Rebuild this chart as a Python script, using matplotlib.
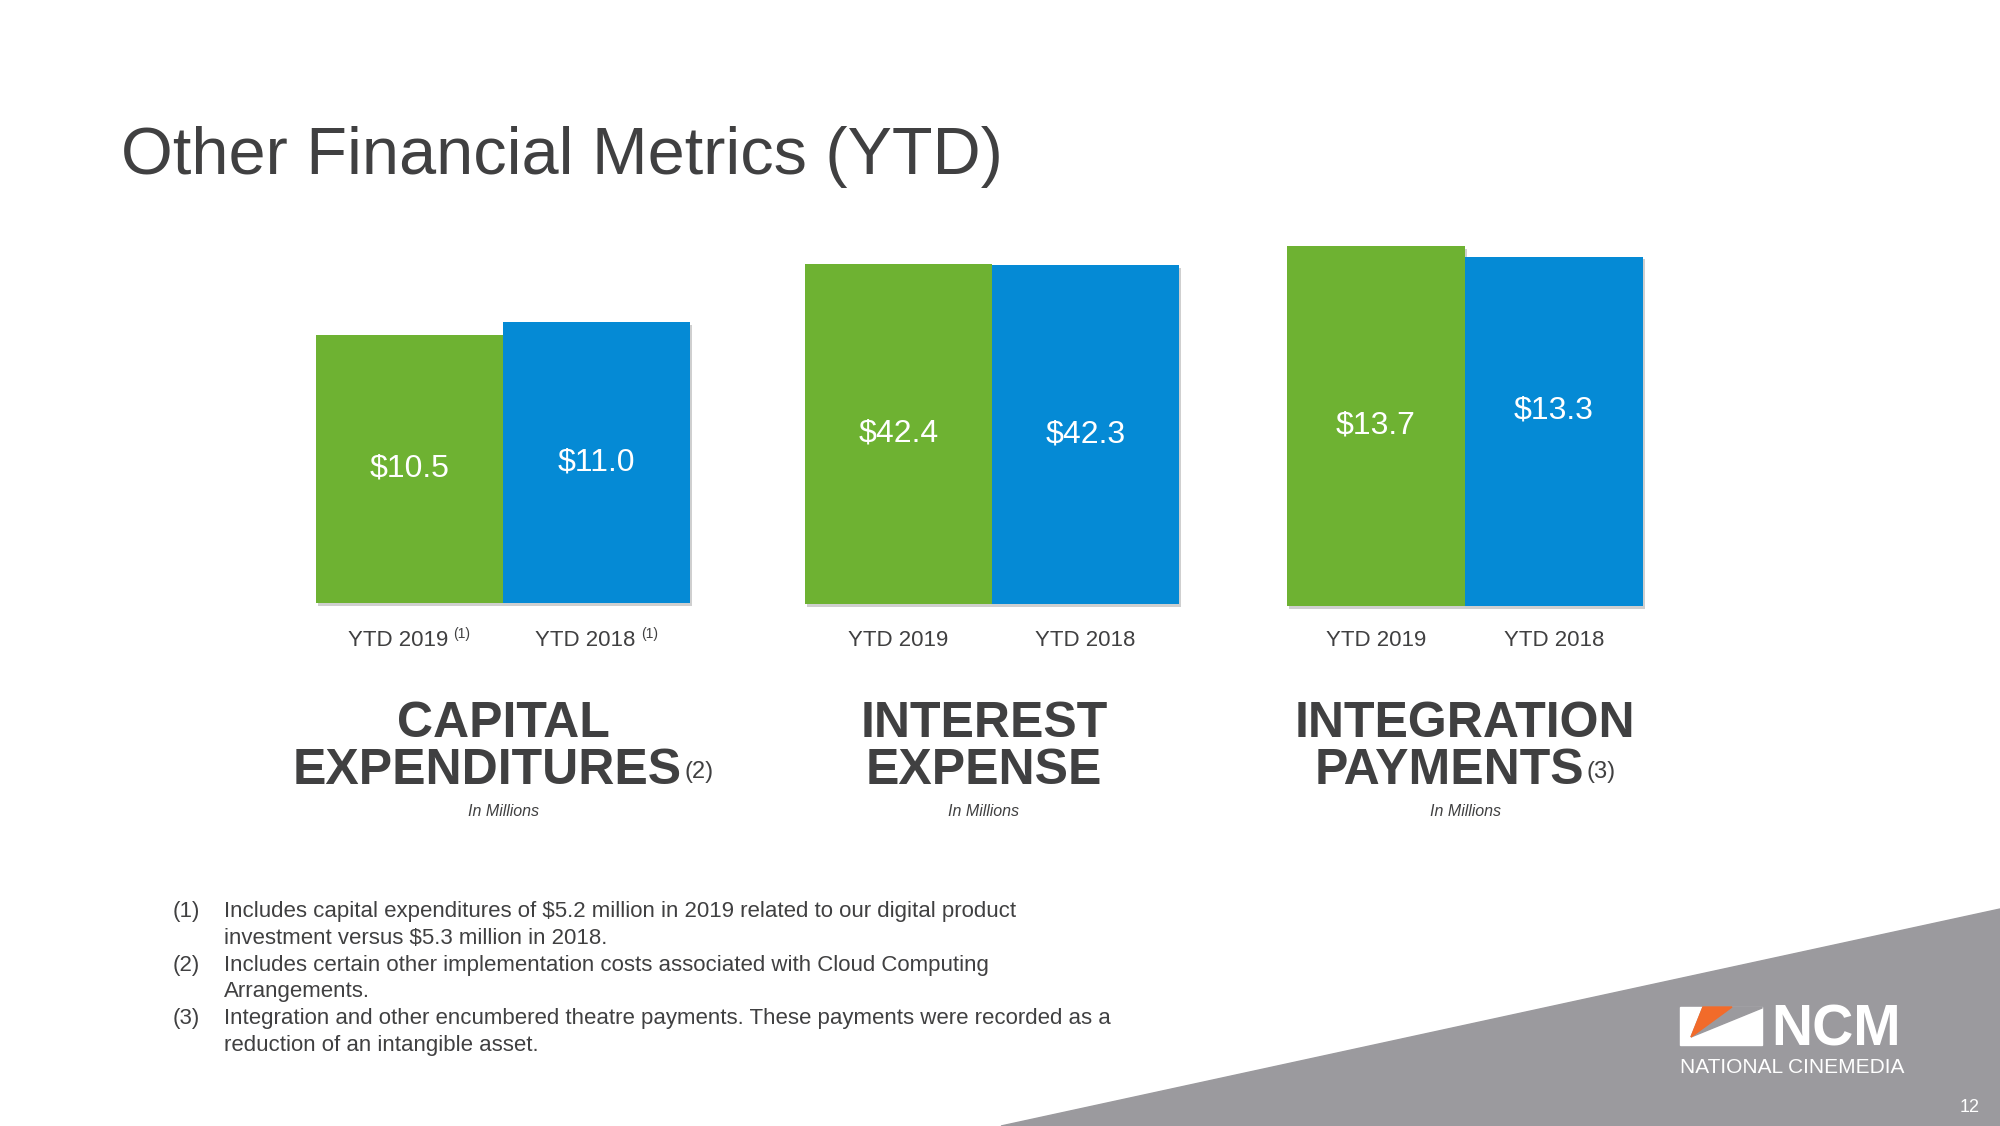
import matplotlib
matplotlib.use('Agg')
import matplotlib.pyplot as plt
import matplotlib.patheffects as pe
from matplotlib.patches import Polygon

plt.rcParams['font.family'] = ['Liberation Sans', 'DejaVu Sans']

W, H = 2000, 1126

# data
periods = ['YTD 2019', 'YTD 2018']
capex = [10.5, 11.0]
interest = [42.4, 42.3]
integration = [13.7, 13.3]
period_notes = [['(1)', '(1)'], ['', ''], ['', '']]
titles_top = ['CAPITAL', 'INTEREST', 'INTEGRATION']
titles_bottom = ['EXPENDITURES', 'EXPENSE', 'PAYMENTS']
title_notes = ['(2)', '', '(3)']
footnotes = [
    ('(1)', ['Includes capital expenditures of $5.2 million in 2019 related to our digital product',
             'investment versus $5.3 million in 2018.']),
    ('(2)', ['Includes certain other implementation costs associated with Cloud Computing',
             'Arrangements.']),
    ('(3)', ['Integration and other encumbered theatre payments. These payments were recorded as a',
             'reduction of an intangible asset.']),
]

green = '#6EB232'
blue = '#058AD5'
dark = '#404041'
grey_bg = '#9b9a9e'

def fx(x):
    return x / W

def fy(y):
    return 1 - y / H

fig = plt.figure(figsize=(20, 11.26), dpi=100)
fig.patch.set_facecolor('white')
rend = fig.canvas.get_renderer()

# grey corner triangle
fig.add_artist(Polygon([(fx(1001), 0), (1, fy(909)), (1, 0)], closed=True,
                       transform=fig.transFigure, color=grey_bg, zorder=0))

fig.text(fx(121), fy(174), 'Other Financial Metrics (YTD)', fontsize=48,
         color=dark, ha='left', va='baseline')


def put_sup(cx, base, main, sup, size, sup_size, weight='normal', rise=6, gap=3):
    t = fig.text(0, fy(base), main, fontsize=size, fontweight=weight,
                 color=dark, ha='left', va='baseline')
    wt = t.get_window_extent(rend).width
    ws = 0
    s = None
    if sup:
        s = fig.text(0, fy(base - rise), sup, fontsize=sup_size, color=dark,
                     ha='left', va='baseline')
        ws = s.get_window_extent(rend).width + gap
    x0 = cx - (wt + ws) / 2
    t.set_x(fx(x0))
    if s is not None:
        s.set_x(fx(x0 + wt + gap))


# panel boxes in pixels: left, right, top (tallest bar), bottom
boxes = [(316, 690, 322, 603), (805, 1179, 264, 604), (1287, 1643, 246, 606)]
label_frac = [[0.5, 0.5], [0.5, 0.5], [0.5, 0.56]]
heading_shift = [0, -8, 0]
series = [capex, interest, integration]

for k, vals in enumerate(series):
    l, r, t, b = boxes[k]
    ax = fig.add_axes([fx(l), fy(b), (r - l) / W, (b - t) / H])
    bars = ax.bar(range(len(vals)), vals, width=1.0, color=[green, blue], zorder=2)
    for bar in bars:
        bar.set_clip_on(False)
        bar.set_path_effects([pe.SimplePatchShadow(offset=(1.5, -2), shadow_rgbFace='#888888', alpha=0.4),
                              pe.Normal()])
    ax.set_xlim(-0.5, len(vals) - 0.5)
    ax.set_ylim(0, max(vals))
    ax.axis('off')
    for i, v in enumerate(vals):
        ax.text(i, v * label_frac[k][i], '\\$' + f'{v:.1f}', ha='center', va='center',
                color='white', fontsize=23)
    for i, p in enumerate(periods):
        cx = ax.transData.transform((i, 0))[0]
        put_sup(cx, 646, p, period_notes[k][i], 16, 10, rise=8, gap=5)
    cx = ax.transData.transform((0.5, 0))[0] + heading_shift[k]
    put_sup(cx, 737, titles_top[k], '', 36, 16, weight='bold')
    put_sup(cx, 784, titles_bottom[k], title_notes[k], 36, 17, weight='bold', rise=6, gap=3)
    fig.text(fx(cx), fy(816), 'In Millions', fontsize=11.5, style='italic',
             color=dark, ha='center', va='baseline')

# footnotes
y = 912
for num, lines in footnotes:
    fig.text(fx(173), fy(y), num, fontsize=16, color=dark, ha='left', va='center')
    for line in lines:
        fig.text(fx(224), fy(y), line.replace('$', '\\$'), fontsize=16, color=dark,
                 ha='left', va='center')
        y += 26.6

# logo
px = lambda pts: [(fx(a), fy(c)) for a, c in pts]
fig.add_artist(Polygon(px([(1680, 1007), (1762, 1007), (1762, 1045), (1680, 1045)]),
                       transform=fig.transFigure, color='white', zorder=1))
fig.add_artist(Polygon(px([(1703, 1007), (1762, 1007), (1762, 1008), (1691, 1037)]),
                       transform=fig.transFigure, color=grey_bg, zorder=2))
fig.add_artist(Polygon(px([(1703, 1007), (1732, 1007), (1691, 1037)]),
                       transform=fig.transFigure, color='#F26B2A', zorder=3))
fig.text(fx(1771), fy(1045), 'NCM', fontsize=41, fontweight='bold', color='white',
         ha='left', va='baseline')
fig.text(fx(1680), fy(1073), 'NATIONAL CINEMEDIA', fontsize=15, color='white',
         ha='left', va='baseline')
fig.text(fx(1970), fy(1107), '12', fontsize=13, color='white', ha='center', va='center')

fig.savefig('out.png', dpi=100, facecolor='white')
